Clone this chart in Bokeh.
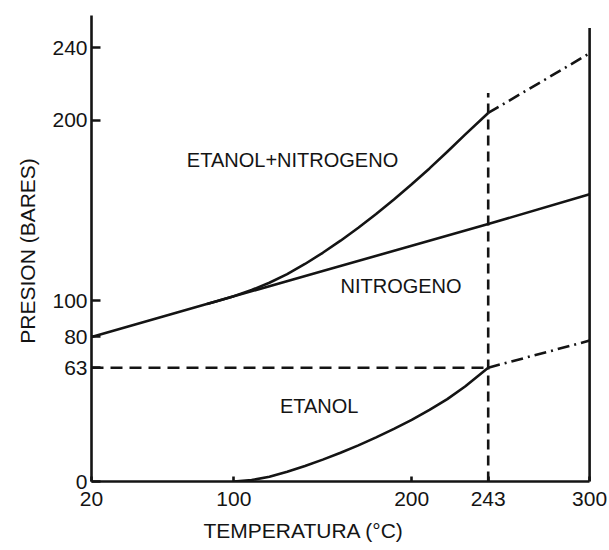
from bokeh.core.properties import value
from bokeh.embed import file_html
from bokeh.models import FixedTicker, Range1d, Title
from bokeh.plotting import figure
from bokeh.resources import INLINE

# Presion (bares) frente a temperatura (grados C)
temp_nitrogeno = [20, 100, 150, 200, 243, 300]
pres_nitrogeno = [80, 102.5, 116.5, 130.5, 142.5, 159]

temp_etanol = [100, 110, 120, 130, 140, 150, 160, 170, 180, 190, 200, 210, 220, 230, 243]
pres_etanol = [0, 0.8, 2.6, 5.4, 8.6, 12.1, 15.9, 20, 24.4, 29.1, 34.1, 39.6, 45.6, 52.6, 63]

temp_mezcla = [85, 90, 100, 110, 120, 130, 140, 150, 160, 170, 180, 190, 200, 210, 220, 230, 243]
pres_mezcla = [98.2, 99.6, 102.6, 106, 110, 114.8, 120.4, 126.6, 133.3, 140.5, 148.1,
               156.1, 164.5, 173.3, 182.5, 192, 204]

# tramos extrapolados por encima del punto critico del etanol
temp_extrap = [243, 300]
pres_etanol_extrap = [63, 78]
pres_mezcla_extrap = [204, 237]

temp_critica = 243
pres_critica = 63

x_ticks = [20, 100, 200, 243, 300]
y_ticks = [0, 63, 80, 100, 200, 240]

INK = "#141414"
FONT = "Liberation Sans"

p = figure(
    width=609, height=550,
    x_range=Range1d(20, 305), y_range=Range1d(0, 258.5),
    output_backend="svg", toolbar_location=None,
    min_border_left=91, min_border_right=11,
    min_border_top=14, min_border_bottom=69,
    background_fill_color="white", border_fill_color="white",
)
p.outline_line_color = None
p.xgrid.visible = False
p.ygrid.visible = False

p.xaxis.bounds = (20, 300)
p.yaxis.bounds = (0, 258)
p.xaxis.ticker = FixedTicker(ticks=x_ticks)
p.yaxis.ticker = FixedTicker(ticks=y_ticks)

for ax in (p.xaxis[0], p.yaxis[0]):
    ax.axis_line_color = INK
    ax.axis_line_width = 2.6
    ax.major_tick_line_color = INK
    ax.major_tick_line_width = 2.6
    ax.major_tick_out = 0
    ax.minor_tick_line_color = None
    ax.major_label_text_font = FONT
    ax.major_label_text_font_size = "21px"
    ax.major_label_text_color = INK

p.xaxis.major_tick_in = 5
p.yaxis.major_tick_in = 9
p.xaxis.major_label_standoff = 10
p.yaxis.major_label_standoff = 4

p.yaxis.axis_label = "PRESION  (BARES)"
p.yaxis.axis_label_text_font = FONT
p.yaxis.axis_label_text_font_size = "21px"
p.yaxis.axis_label_text_font_style = "normal"
p.yaxis.axis_label_text_color = INK
p.yaxis.axis_label_standoff = 10

# rotulo del eje x, desplazado hacia la izquierda como en el diagrama
p.add_layout(Title(
    text="TEMPERATURA (°C)", align="left", offset=112, standoff=16,
    text_font=FONT, text_font_size="21px", text_font_style="normal",
    text_color=INK,
), "below")

solid = dict(line_color=INK, line_width=2.6, line_join="round")

# borde derecho del diagrama
p.line([300, 300], [0, 251], **solid)

p.line(temp_nitrogeno, pres_nitrogeno, **solid)
p.line(temp_etanol, pres_etanol, **solid)
p.line(temp_mezcla, pres_mezcla, **solid)

p.line(temp_extrap, pres_etanol_extrap, line_dash="12 5 2 5", **solid)
p.line(temp_extrap, pres_mezcla_extrap, line_dash="12 5 2 5", **solid)

# lineas de referencia del punto critico
p.line([x_ticks[0], temp_critica], [pres_critica, pres_critica], line_dash="12 7", **solid)
p.line([temp_critica, temp_critica], [0, 215], line_dash="10 6", **solid)

text_style = dict(
    text_font=value(FONT), text_font_size="20px", text_color=INK,
    text_align="center", text_baseline="middle",
)
p.text(x=[133], y=[178], text=["ETANOL+NITROGENO"], **text_style)
p.text(x=[194], y=[108], text=["NITROGENO"], **text_style)
p.text(x=[148], y=[42], text=["ETANOL"], **text_style)

open("out.html", "w").write(file_html(p, INLINE))
